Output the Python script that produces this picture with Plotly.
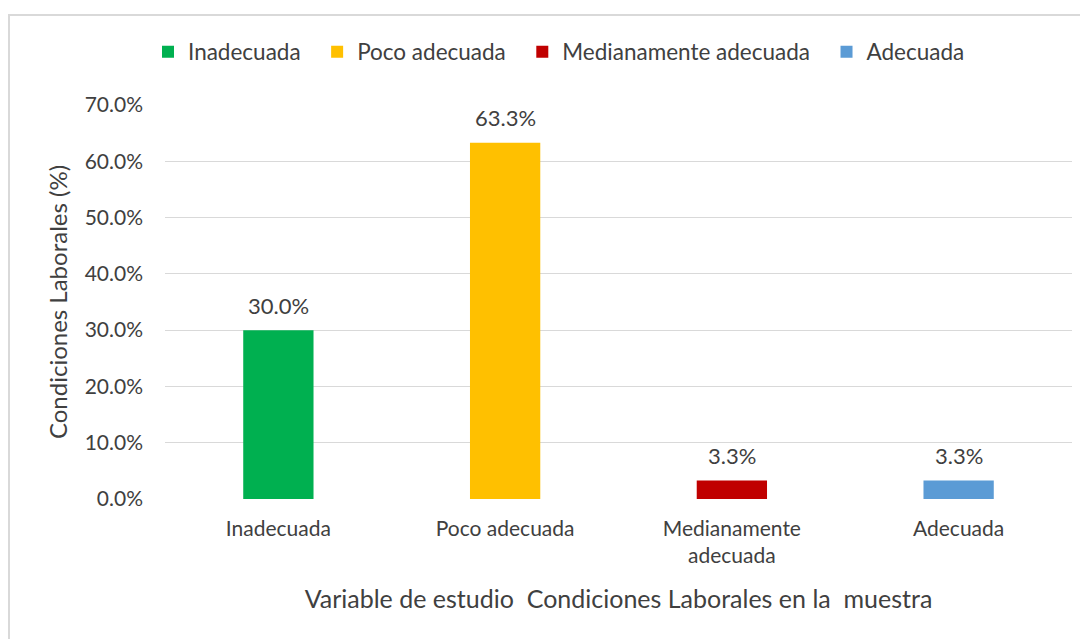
import plotly.graph_objects as go

categories = ["Inadecuada", "Poco adecuada", "Medianamente adecuada", "Adecuada"]
tick_labels = ["Inadecuada", "Poco adecuada", "Medianamente<br>adecuada", "Adecuada"]
values = [0.300, 0.633, 0.033, 0.033]
colors = ["#00B050", "#FFC000", "#C00000", "#5B9BD5"]

FONT = "Lato"
TXT = "#404040"

# page body has an 8px margin -> figure drawn 8px smaller and coordinates compensated
W, H = 1080, 631
L, R, T, B = 157, 16, 97, 140
PW, PH = W - L - R, H - T - B

def px(xfig):
    return (xfig - L) / PW

def py(yfig):
    return (H - B - yfig) / PH

fig = go.Figure()
for cat, tl, v, c in zip(categories, tick_labels, values, colors):
    fig.add_trace(go.Bar(
        x=[tl], y=[v], name=cat + "\u00a0\u00a0", marker=dict(color=c, line=dict(width=0)),
        width=0.31, cliponaxis=False,
    ))
    fig.add_annotation(x=tl, y=v, text=f"{v*100:.1f}%", showarrow=False,
                       yanchor="middle", yshift=25,
                       font=dict(family=FONT, size=22, color=TXT))

fig.update_layout(
    width=W, height=H,
    margin=dict(l=L, r=R, t=T, b=B),
    paper_bgcolor="white", plot_bgcolor="white",
    barmode="overlay",
    font=dict(family=FONT, size=22, color=TXT),
    legend=dict(orientation="h", x=px(140), xanchor="left", y=py(44), yanchor="middle",
                font=dict(family=FONT, size=22.5, color=TXT), traceorder="normal",
                itemwidth=30),
    xaxis=dict(tickvals=tick_labels, ticktext=tick_labels, showgrid=False, showline=False,
               ticks="", tickfont=dict(family=FONT, size=21, color=TXT), ticklabelstandoff=15,
               title=dict(text="Variable de estudio  Condiciones Laborales en la  muestra",
                          font=dict(family=FONT, size=25, color=TXT), standoff=24)),
    yaxis=dict(range=[0, 0.7], dtick=0.1, tickformat=".1%", showgrid=True,
               gridcolor="#d9d9d9", gridwidth=1, zeroline=False, showline=False,
               ticks="", tickfont=dict(family=FONT, size=21, color=TXT), ticklabelstandoff=21,
               title=dict(text="Condiciones Laborales (%)",
                          font=dict(family=FONT, size=24, color=TXT), standoff=10)),
    shapes=[
        dict(type="line", xref="paper", yref="paper", x0=px(0), x1=px(W + 20), y0=py(7), y1=py(7),
             line=dict(color="#d9d9d9", width=2)),
        dict(type="line", xref="paper", yref="paper", x0=px(1), x1=px(1), y0=py(7), y1=py(H + 20),
             line=dict(color="#d9d9d9", width=2)),
    ],
)

fig.write_html("out.html")
